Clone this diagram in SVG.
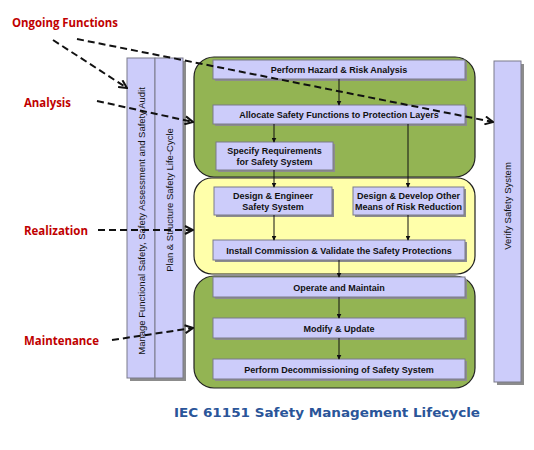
<svg xmlns="http://www.w3.org/2000/svg" width="534" height="450" viewBox="0 0 534 450">
<defs>
<style>
.stage{stroke:#222;stroke-width:1.2}
.green{fill:#93B453}
.yellow{fill:#FFFFAA}
.box{fill:#CCCCFA;stroke:#7a7a8a;stroke-width:1}
.sh{fill:#8c8c8c}
.t{font-family:"Liberation Sans",Arial,sans-serif;font-weight:bold;font-size:9px;fill:#111;text-anchor:middle}
.v{font-family:"Liberation Sans",Arial,sans-serif;font-size:9.5px;fill:#111;text-anchor:middle}
.lab{font-family:"Open Sans","Liberation Sans",sans-serif;font-weight:bold;font-size:12px;fill:#C00000}
.title{font-family:"DejaVu Sans",Verdana,sans-serif;font-weight:bold;font-size:13px;fill:#2A5599}
.solid{stroke:#111;stroke-width:1;fill:none;marker-end:url(#ah)}
.dash{stroke:#111;stroke-width:2;fill:none;stroke-dasharray:7,4;marker-end:url(#oh)}
</style>
<marker id="ah" viewBox="0 0 8 8" refX="7" refY="4" markerWidth="5" markerHeight="5" orient="auto" markerUnits="userSpaceOnUse">
<path d="M0,0 L8,4 L0,8 z" fill="#111"/>
</marker>
<marker id="oh" viewBox="0 0 10 10" refX="9" refY="5" markerWidth="10" markerHeight="10" orient="auto" markerUnits="userSpaceOnUse">
<path d="M1,1 L9,5 L1,9" fill="none" stroke="#111" stroke-width="2"/>
</marker>
</defs>
<rect width="534" height="450" fill="#fff"/>

<g id="col-manage">
<rect class="sh" x="130" y="61" width="28" height="320"/>
<rect class="box" x="127" y="58" width="28" height="320"/>
<text class="v" transform="translate(144.5,221) rotate(-90)">Manage Functional Safety, Safety Assessment and Safety Audit</text>
</g>
<g id="col-plan">
<rect class="sh" x="158" y="61" width="28" height="320"/>
<rect class="box" x="155" y="58" width="28" height="320"/>
<text class="v" transform="translate(172.5,200) rotate(-90)">Plan &amp; Structure Safety Life-Cycle</text>
</g>

<g id="stage-analysis">
<rect class="stage green" x="194" y="57" width="281" height="120" rx="20"/>
</g>
<g id="stage-realization">
<rect class="stage yellow" x="194" y="178" width="281" height="96" rx="18"/>
</g>
<g id="stage-maintenance">
<rect class="stage green" x="194" y="276" width="281" height="112" rx="20"/>
</g>

<g id="verify">
<rect class="sh" x="497" y="64" width="27" height="321"/>
<rect class="box" x="494" y="61" width="27" height="321"/>
<text class="v" transform="translate(511,206) rotate(-90)">Verify Safety System</text>
</g>

<g id="n-hazard">
<rect class="sh" x="215" y="62" width="252" height="19"/>
<rect class="box" x="213" y="60" width="252" height="19"/>
<text class="t" x="339" y="73">Perform Hazard &amp; Risk Analysis</text>
</g>
<g id="n-allocate">
<rect class="sh" x="215" y="107" width="252" height="19"/>
<rect class="box" x="213" y="105" width="252" height="19"/>
<text class="t" x="339" y="118">Allocate Safety Functions to Protection Layers</text>
</g>
<g id="n-specify">
<rect class="sh" x="218" y="144" width="117" height="28"/>
<rect class="box" x="216" y="142" width="117" height="28"/>
<text class="t" x="274.5" y="154">Specify Requirements</text>
<text class="t" x="274.5" y="165">for Safety System</text>
</g>
<g id="n-design-eng">
<rect class="sh" x="216" y="189" width="118" height="28"/>
<rect class="box" x="214" y="187" width="118" height="28"/>
<text class="t" x="273" y="199">Design &amp; Engineer</text>
<text class="t" x="273" y="210">Safety System</text>
</g>
<g id="n-design-other">
<rect class="sh" x="355" y="189" width="111" height="28"/>
<rect class="box" x="353" y="187" width="111" height="28"/>
<text class="t" x="408.5" y="199">Design &amp; Develop Other</text>
<text class="t" x="408.5" y="210">Means of Risk Reduction</text>
</g>
<g id="n-install">
<rect class="sh" x="215" y="242" width="252" height="20"/>
<rect class="box" x="213" y="240" width="252" height="20"/>
<text class="t" x="339" y="253.5">Install Commission &amp; Validate the Safety Protections</text>
</g>
<g id="n-operate">
<rect class="sh" x="215" y="279" width="252" height="20"/>
<rect class="box" x="213" y="277" width="252" height="20"/>
<text class="t" x="339" y="290.5">Operate and Maintain</text>
</g>
<g id="n-modify">
<rect class="sh" x="215" y="320" width="252" height="20"/>
<rect class="box" x="213" y="318" width="252" height="20"/>
<text class="t" x="339" y="331.5">Modify &amp; Update</text>
</g>
<g id="n-decom">
<rect class="sh" x="215" y="361" width="252" height="20"/>
<rect class="box" x="213" y="359" width="252" height="20"/>
<text class="t" x="339" y="372.5">Perform Decommissioning of Safety System</text>
</g>

<g id="connectors">
<line class="solid" x1="339" y1="79" x2="339" y2="105"/>
<line class="solid" x1="274" y1="124" x2="274" y2="142"/>
<line class="solid" x1="408" y1="124" x2="408" y2="187"/>
<line class="solid" x1="274" y1="170" x2="274" y2="187"/>
<line class="solid" x1="274" y1="215" x2="274" y2="240"/>
<line class="solid" x1="408" y1="215" x2="408" y2="240"/>
<line class="solid" x1="339" y1="260" x2="339" y2="277"/>
<line class="solid" x1="339" y1="297" x2="339" y2="318"/>
<line class="solid" x1="339" y1="338" x2="339" y2="359"/>
<line class="dash" x1="53" y1="40" x2="127" y2="88"/>
<line class="dash" x1="77" y1="39" x2="493" y2="122"/>
<line class="dash" x1="97" y1="101" x2="193" y2="122"/>
<line class="dash" x1="98" y1="230" x2="193" y2="230"/>
<line class="dash" x1="112" y1="340" x2="193" y2="328"/>
</g>

<g id="labels">
<text class="lab" x="12" y="27" textLength="106" lengthAdjust="spacingAndGlyphs">Ongoing Functions</text>
<text class="lab" x="24" y="107" textLength="47" lengthAdjust="spacingAndGlyphs">Analysis</text>
<text class="lab" x="24" y="235" textLength="64" lengthAdjust="spacingAndGlyphs">Realization</text>
<text class="lab" x="24" y="345" textLength="75" lengthAdjust="spacingAndGlyphs">Maintenance</text>
<text class="title" x="174" y="417" textLength="306" lengthAdjust="spacingAndGlyphs">IEC 61151 Safety Management Lifecycle</text>
</g>
</svg>
